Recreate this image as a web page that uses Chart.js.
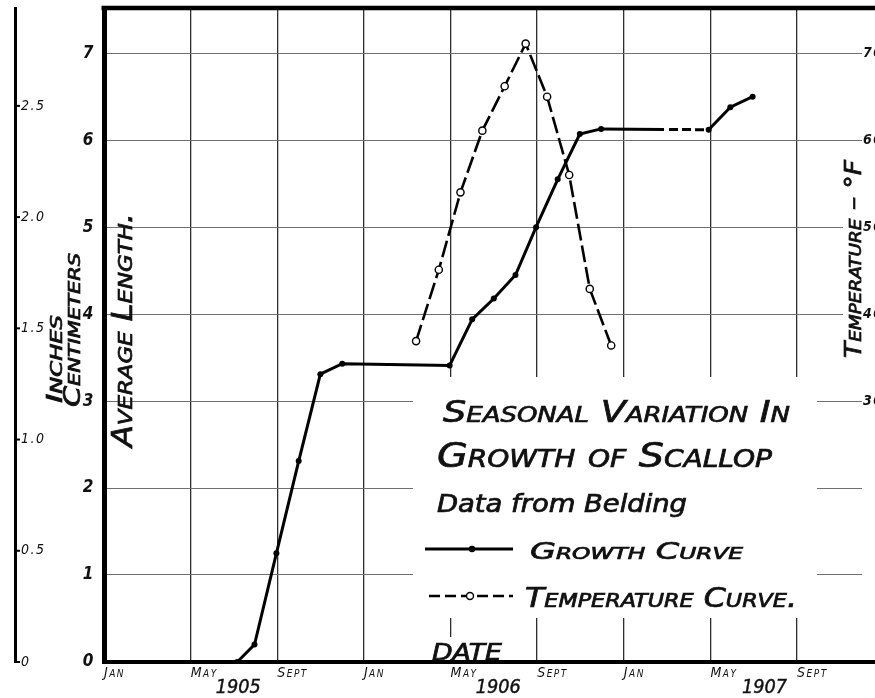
<!DOCTYPE html>
<html><head><meta charset="utf-8">
<script src="https://cdn.jsdelivr.net/npm/chart.js@4.4.1/dist/chart.umd.min.js"></script>
<style>html,body{margin:0;padding:0;background:#fff;overflow:hidden}#wrap{width:875px;height:698px;position:relative}</style>
</head><body><div id="wrap"><canvas id="c" width="875" height="698"></canvas></div>
<script>
// ---- data (months counted from 1 Jan 1905) ----
const growthMonths = [6.15, 6.95, 7.96, 8.99, 9.99, 11.0, 15.96, 17.0, 18.0, 19.0, 19.95, 20.95, 21.97, 22.95, 27.92, 28.92, 29.95];
const growthCm     = [0.0, 0.2, 1.25, 2.31, 3.31, 3.43, 3.41, 3.94, 4.18, 4.45, 5.0, 5.55, 6.07, 6.13, 6.12, 6.38, 6.5];
const tempMonths   = [14.41, 15.46, 16.46, 17.47, 18.5, 19.47, 20.46, 21.48, 22.43, 23.42];
const tempF        = [36.9, 45.1, 54.0, 61.1, 66.2, 71.1, 65.0, 56.0, 42.9, 36.4];
const monthTicks   = [0, 4, 8, 12, 16, 20, 24, 28, 32];
const monthLabels  = ['Jan', 'May', 'Sept', 'Jan', 'May', 'Sept', 'Jan', 'May', 'Sept'];
const yearLabels   = ['1905', '1906', '1907'];
const yearPositions = [6.2, 18.2, 30.5];
const cmTicks      = [0, 1, 2, 3, 4, 5, 6, 7];
const tempTicks    = [30, 40, 50, 60, 70];
const inchTicks    = [0, 0.5, 1, 1.5, 2, 2.5];
const inchLabels   = ['0', '0.5', '1.0', '1.5', '2.0', '2.5'];

const FAM = "'Liberation Sans Narrow','DejaVu Sans Condensed','Liberation Sans',sans-serif";
const INK = '#111';

function drawText(ctx, s, x, y, size, w, o) {
  o = o || {};
  ctx.save();
  ctx.font = 'italic ' + (o.sc ? 'small-caps ' : '') + (o.weight || 'normal') + ' ' + size + 'px ' + FAM;
  ctx.fillStyle = INK; ctx.strokeStyle = INK; ctx.textAlign = 'left'; ctx.textBaseline = 'alphabetic';
  const mw = ctx.measureText(s).width;
  ctx.translate(x, y);
  if (o.rot) ctx.rotate(o.rot);
  if (o.center) ctx.translate(-w / 2, 0);
  if (w) ctx.scale(w / mw, 1);
  ctx.fillText(s, 0, 0);
  ctx.lineWidth = o.sw == null ? 0.7 : o.sw;
  if (ctx.lineWidth > 0) ctx.strokeText(s, 0, 0);
  ctx.restore();
}

const decor = {
  id: 'decor',
  beforeDraw(chart) {
    if ('letterSpacing' in chart.ctx) chart.ctx.letterSpacing = '1.5px';
  },
  beforeDatasetsDraw(chart) {
    const ctx = chart.ctx;
    if ('letterSpacing' in ctx) ctx.letterSpacing = '0px';
    ctx.save();
    ctx.fillStyle = '#fff';
    ctx.fillRect(413, 377, 404, 241);   // title / legend panel
    ctx.fillRect(428, 637, 80, 22);     // "DATE" label
    ctx.fillRect(843, 150, 19, 215);    // right axis title
    ctx.restore();
  },
  afterDraw(chart) {
    const ctx = chart.ctx, a = chart.chartArea;
    const xs = chart.scales.x, y3 = chart.scales.y3;
    ctx.save();
    ctx.strokeStyle = '#000'; ctx.lineCap = 'butt';
    // top frame line and extension of x axis
    ctx.lineWidth = 4.5;
    ctx.beginPath(); ctx.moveTo(a.left - 2.5, a.top); ctx.lineTo(875, a.top); ctx.stroke();
    ctx.lineWidth = 4;
    ctx.beginPath(); ctx.moveTo(a.right - 1, a.bottom); ctx.lineTo(875, a.bottom); ctx.stroke();
    // inch axis tick marks
    ctx.lineWidth = 2;
    inchTicks.forEach(v => {
      const y = y3.getPixelForValue(v);
      ctx.beginPath(); ctx.moveTo(y3.right, y); ctx.lineTo(y3.right + 5, y); ctx.stroke();
    });
    // legend samples
    ctx.lineWidth = 3;
    ctx.beginPath(); ctx.moveTo(425, 549); ctx.lineTo(513, 549); ctx.stroke();
    ctx.fillStyle = '#000';
    ctx.beginPath(); ctx.arc(472, 549, 3.2, 0, Math.PI * 2); ctx.fill();
    ctx.lineWidth = 2.6; ctx.setLineDash([11, 5]);
    ctx.beginPath(); ctx.moveTo(429, 596); ctx.lineTo(513, 596); ctx.stroke();
    ctx.setLineDash([]);
    ctx.fillStyle = '#fff'; ctx.lineWidth = 1.4;
    ctx.beginPath(); ctx.arc(470, 596, 3.5, 0, Math.PI * 2); ctx.fill(); ctx.stroke();
    ctx.restore();

    // lettering
    drawText(ctx, 'Seasonal Variation In', 443, 422, 31, 347, {sc: true});
    drawText(ctx, 'Growth of Scallop', 437, 467, 34, 335, {sc: true});
    drawText(ctx, 'Data from Belding', 437, 512, 24, 250);
    drawText(ctx, 'Growth Curve', 530, 559, 23, 213, {sc: true});
    drawText(ctx, 'Temperature Curve.', 525, 607, 27, 272, {sc: true});
    drawText(ctx, 'DATE', 432, 660, 23, 70);
    const R = -Math.PI / 2;
    drawText(ctx, 'Average Length.', 132, 447, 28, 234, {sc: true, rot: R});
    drawText(ctx, 'Inches', 62, 403, 21, 88, {sc: true, rot: R});
    drawText(ctx, 'Centimeters', 80, 407, 23, 154, {sc: true, rot: R});
    drawText(ctx, 'Temperature \u2013 \u00b0F', 861, 358, 23, 198, {sc: true, rot: R});
    yearLabels.forEach((t, i) => {
      drawText(ctx, t, xs.getPixelForValue(yearPositions[i]), 693, 19, 45, {center: true, sw: 0.4});
    });
  }
};

const tickFont = (size, extra) => Object.assign({family: FAM, size: size, style: 'italic'}, extra || {});

new Chart(document.getElementById('c'), {
  type: 'line',
  data: {
    datasets: [
      {
        label: 'Temperature Curve',
        data: tempMonths.map((m, i) => ({x: m, y: tempF[i]})),
        xAxisID: 'x', yAxisID: 'y2',
        borderColor: '#000', borderWidth: 2.6, borderDash: [17, 5],
        pointRadius: 3.6, pointBackgroundColor: '#fff', pointBorderColor: '#000', pointBorderWidth: 1.4,
        tension: 0, fill: false
      },
      {
        label: 'Growth Curve',
        data: growthMonths.map((m, i) => ({x: m, y: growthCm[i]})),
        xAxisID: 'x', yAxisID: 'y',
        borderColor: '#000', borderWidth: 3,
        pointRadius: 3, pointBackgroundColor: '#000', pointBorderColor: '#000', pointBorderWidth: 0,
        tension: 0, fill: false,
        segment: { borderDash: c => c.p0DataIndex === 13 ? [63, 5, 9, 4, 9, 4, 9, 5] : undefined }
      }
    ]
  },
  options: {
    responsive: false, animation: false, devicePixelRatio: 1,
    layout: {padding: {top: 8, left: 0, right: 0, bottom: 0}},
    plugins: {legend: {display: false}, title: {display: false}, tooltip: {enabled: false}},
    scales: {
      x: {
        type: 'linear', position: 'bottom', min: 0, max: 35,
        afterBuildTicks: s => { s.ticks = monthTicks.map(v => ({value: v})); },
        afterFit: s => { s.height = 36; s.paddingLeft = 0; s.paddingRight = 0; },
        grid: {color: '#2e2e2e', lineWidth: 1.3, drawTicks: false},
        border: {display: true, color: '#000', width: 4},
        ticks: {
          align: 'start', maxRotation: 0, minRotation: 0, autoSkip: false, padding: 3, color: INK,
          font: tickFont(14, {weight: 'small-caps'}),
          callback: v => { const i = monthTicks.indexOf(v); return i >= 0 ? monthLabels[i] : ''; }
        }
      },
      y: {
        type: 'linear', position: 'left', min: 0, max: 7.52,
        afterBuildTicks: s => { s.ticks = cmTicks.map(v => ({value: v})); },
        afterFit: s => { s.width = 89; s.paddingTop = 0; s.paddingBottom = 0; },
        grid: {color: '#707070', lineWidth: 1.1, drawTicks: false},
        border: {display: true, color: '#000', width: 5},
        ticks: {padding: 9, color: INK, font: tickFont(17, {weight: 'bold'}), callback: v => String(v)}
      },
      y2: {
        type: 'linear', position: 'right', min: 0, max: 75.2,
        afterBuildTicks: s => { s.ticks = tempTicks.map(v => ({value: v})); },
        afterFit: s => { s.width = 13; s.paddingTop = 0; s.paddingBottom = 0; },
        grid: {display: true, drawOnChartArea: false, drawTicks: false},
        border: {display: false},
        ticks: {padding: 1, color: INK, font: tickFont(14, {weight: 'bold'}), callback: v => String(v)}
      },
      y3: {
        type: 'linear', position: 'left', weight: 10, min: 0, max: 2.94,
        afterBuildTicks: s => { s.ticks = inchTicks.map(v => ({value: v})); },
        afterFit: s => { s.width = 15; s.paddingTop = 0; s.paddingBottom = 0; },
        grid: {display: true, drawOnChartArea: false, drawTicks: false},
        border: {display: true, color: '#000', width: 3},
        ticks: {mirror: true, padding: 6, color: INK, font: tickFont(14),
          callback: v => { const i = inchTicks.indexOf(v); return i >= 0 ? inchLabels[i] : ''; }}
      }
    }
  },
  plugins: [decor]
});
</script>
</body></html>
